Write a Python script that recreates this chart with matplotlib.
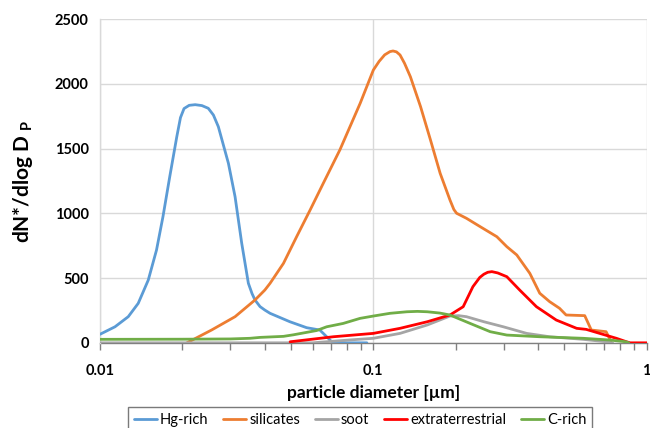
import matplotlib
matplotlib.use("Agg")
import matplotlib.pyplot as plt
from matplotlib.ticker import LogLocator, FixedLocator, NullFormatter, FixedFormatter

plt.rcParams['font.family'] = ['Lato', 'DejaVu Sans']
plt.rcParams['mathtext.fontset'] = 'custom'
plt.rcParams['mathtext.bf'] = 'Lato:bold'
plt.rcParams['mathtext.rm'] = 'Lato'

# ---- data ----
hg_x = [0.0100, 0.01135, 0.01269, 0.0138, 0.01502, 0.0161, 0.0170, 0.0180, 0.0191, 0.0197,
        0.0203, 0.0212, 0.0223, 0.0236, 0.0249, 0.0260, 0.0271, 0.0295, 0.0312, 0.0330,
        0.0349, 0.0360, 0.0369, 0.0385, 0.0401, 0.0419, 0.0495, 0.0570, 0.0637, 0.0684,
        0.0704, 0.0800, 0.0947]
hg_y = [66, 124, 202, 305, 485, 717, 975, 1284, 1593, 1740,
        1810, 1835, 1840, 1833, 1812, 1760, 1670, 1387, 1129, 769,
        460, 380, 331, 280, 253, 228, 163, 117, 99, 35,
        8, 0, 0]

si_x = [0.0208, 0.0256, 0.0312, 0.0369, 0.0401, 0.0419, 0.0469, 0.0524, 0.0587, 0.0656,
        0.0754, 0.0895, 0.1000, 0.1050, 0.1100, 0.1150, 0.1180, 0.1215, 0.1252, 0.1300,
        0.1366, 0.1488, 0.1618, 0.1755, 0.1906, 0.1970, 0.2016, 0.2191, 0.2461, 0.2829,
        0.3077, 0.3346, 0.3735, 0.4061, 0.4414, 0.4796, 0.5070, 0.5931, 0.6269, 0.7101,
        0.7302, 0.7400]
si_y = [0, 99, 202, 331, 408, 460, 614, 820, 1026, 1233,
        1490, 1851, 2108, 2175, 2225, 2250, 2255, 2248, 2224, 2160,
        2056, 1825, 1567, 1310, 1104, 1030, 1001, 962, 897, 820,
        743, 679, 537, 383, 318, 267, 215, 210, 99, 86,
        35, 0]

soot_x = [0.0100, 0.0300, 0.0600, 0.0818, 0.1000, 0.1252, 0.1575, 0.1906, 0.2050, 0.2190,
          0.2536, 0.2987, 0.3636, 0.4414, 0.5854, 0.7100, 0.7500]
soot_y = [0, 0, 0, 22, 35, 73, 138, 207, 210, 202,
          163, 124, 73, 47, 27, 8, 0]

et_x = [0.0496, 0.0714, 0.1000, 0.1252, 0.1575, 0.1906, 0.2131, 0.2313, 0.2450, 0.2536,
        0.2620, 0.2713, 0.2850, 0.3077, 0.3429, 0.3950, 0.4667, 0.5541, 0.6003, 0.6727,
        0.7740, 0.8435, 0.8700, 1.0]
et_y = [8, 47, 73, 112, 163, 215, 279, 434, 505, 530,
        545, 550, 540, 511, 408, 279, 176, 112, 104, 73,
        35, 8, 0, 0]

c_x = [0.0100, 0.0200, 0.0300, 0.0354, 0.0385, 0.0469, 0.0510, 0.0620, 0.0675, 0.0776,
       0.0894, 0.1000, 0.1150, 0.1326, 0.1450, 0.1575, 0.1750, 0.1906, 0.2253, 0.2676,
       0.3077, 0.4061, 0.5854, 0.7302, 0.8400, 0.8600]
c_y = [27, 28, 30, 35, 42, 50, 62, 95, 124, 150,
       189, 207, 228, 240, 243, 240, 230, 215, 151, 86,
       60, 47, 35, 22, 8, 0]

series = [
    ("Hg-rich", hg_x, hg_y, "#5B9BD5"),
    ("silicates", si_x, si_y, "#ED7D31"),
    ("soot", soot_x, soot_y, "#A5A5A5"),
    ("extraterrestrial", et_x, et_y, "#FF0000"),
    ("C-rich", c_x, c_y, "#70AD47"),
]

fig = plt.figure(figsize=(6.5, 4.28), dpi=100)
ax = fig.add_axes([0.1538, 0.199, 0.8412, 0.756])

for name, xs, ys, col in series:
    ax.plot(xs, ys, color=col, lw=2.0, label=name, solid_joinstyle='round',
            solid_capstyle='round', zorder=3)

ax.set_xscale('log')
ax.set_xlim(0.01, 1)
ax.set_ylim(0, 2500)
ax.xaxis.set_major_locator(FixedLocator([0.01, 0.1, 1]))
ax.xaxis.set_major_formatter(FixedFormatter(['0.01', '0.1', '1']))
ax.xaxis.set_minor_locator(LogLocator(base=10, subs=range(2, 10)))
ax.xaxis.set_minor_formatter(NullFormatter())
ax.set_yticks([0, 500, 1000, 1500, 2000, 2500])

ax.grid(True, which='major', color='#D9D9D9', lw=1.0, zorder=0)
ax.set_axisbelow(True)
for s in ['top', 'right']:
    ax.spines[s].set_visible(False)
ax.spines['left'].set_color('#D9D9D9')
ax.spines['left'].set_linewidth(1.0)
ax.spines['bottom'].set_color('#808080')
ax.spines['bottom'].set_linewidth(1.0)
ax.spines['bottom'].set_zorder(2)

ax.tick_params(axis='y', length=0, pad=8, labelsize=10.5)
ax.tick_params(axis='x', which='both', direction='out', color='#808080', width=1.0)
ax.tick_params(axis='x', which='major', length=5, pad=10, labelsize=10.5)
ax.tick_params(axis='x', which='minor', length=5)
for lab in ax.get_xticklabels() + ax.get_yticklabels():
    lab.set_fontweight('bold')

ax.set_xlabel('particle diameter [µm]', fontsize=12.5, fontweight='bold', labelpad=5)
ax.set_ylabel(r'dN*/dlog D $_{\mathbf{P}}$', fontsize=15, fontweight='bold', labelpad=14)

leg = fig.legend(loc='lower left', bbox_to_anchor=(128/650, -0.012, (592-128)/650, 0.072),
                 mode='expand', ncol=5, frameon=True, fancybox=False, fontsize=10.5,
                 handlelength=1.6, handletextpad=0.2, columnspacing=1.0, borderaxespad=0)
leg.get_frame().set_edgecolor('#595959')
leg.get_frame().set_linewidth(1.0)

fig.savefig('out.png', dpi=100)
